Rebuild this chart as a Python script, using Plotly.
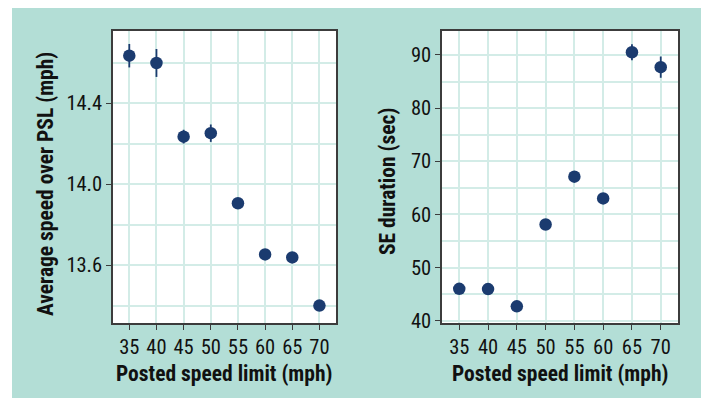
import plotly.graph_objects as go

# ---- data ----
speed_limits = [35, 40, 45, 50, 55, 60, 65, 70]
avg_over_psl = [14.635, 14.599, 14.235, 14.252, 13.906, 13.653, 13.638, 13.400]
avg_over_err = [0.058, 0.069, 0.034, 0.043, 0.010, 0.010, 0.010, 0.010]
se_duration = [46.0, 45.95, 42.7, 58.1, 67.1, 63.0, 90.5, 87.7]
se_duration_err = [0.4, 0.4, 0.4, 0.5, 0.6, 0.6, 1.5, 2.0]
x_tick_vals = [35, 40, 45, 50, 55, 60, 65, 70]
x_tick_labels = ["35", "40", "45", "50", "55", "60", "65", "70"]
left_y_ticks = [13.6, 14.0, 14.4]
left_y_labels = ["13.6", "14.0", "14.4"]
right_y_ticks = [40, 50, 60, 70, 80, 90]
right_y_labels = ["40", "50", "60", "70", "80", "90"]

# The page body has an 8px margin; figure coords = page coords - 8
OFF = 8
W, H = 709 - OFF, 398 - OFF
TEAL = "#b3ded6"
GRID = "#d3ece7"
NAVY = "#1b3b6f"
FRAME = "#3c3c3c"
FONT = "Roboto, Open Sans, sans-serif"


def cond(s, stretch="80%"):
    return '<span style="font-stretch:%s">%s</span>' % (stretch, s)


def px_x(p):
    return (p - OFF) / W


def px_y(p):
    return (H - (p - OFF)) / H


fig = go.Figure()

fig.add_trace(go.Scatter(
    x=speed_limits, y=avg_over_psl, mode="markers",
    marker=dict(color=NAVY, size=12.5),
    error_y=dict(type="data", array=avg_over_err, color=NAVY, thickness=1.8, width=0),
    xaxis="x", yaxis="y", showlegend=False))

fig.add_trace(go.Scatter(
    x=speed_limits, y=se_duration, mode="markers",
    marker=dict(color=NAVY, size=12.5),
    error_y=dict(type="data", array=se_duration_err, color=NAVY, thickness=1.8, width=0),
    xaxis="x2", yaxis="y2", showlegend=False))

ydom = [px_y(323), px_y(31)]
axis_common = dict(
    showline=True, linecolor=FRAME, linewidth=1.5, mirror=True,
    showgrid=True, gridcolor=GRID, gridwidth=1.5,
    ticks="outside", ticklen=5, tickwidth=1, tickcolor=FRAME,
    tickfont=dict(family=FONT, size=20.5, color="#111111"),
    zeroline=False, fixedrange=True, automargin=False,
)

fig.update_layout(
    width=W, height=H,
    margin=dict(l=0, r=0, t=0, b=0),
    paper_bgcolor=TEAL, plot_bgcolor="white",
    xaxis=dict(domain=[px_x(113), px_x(336)], range=[32, 73.05],
               tickvals=x_tick_vals, ticktext=[cond(t) for t in x_tick_labels],
               anchor="y", **axis_common),
    yaxis=dict(domain=ydom, range=[13.314, 14.757],
               tickvals=left_y_ticks, ticktext=[cond(t) for t in left_y_labels],
               minor=dict(dtick=0.2, tick0=13.4, showgrid=True, gridcolor=GRID, gridwidth=1.5, ticks=""),
               anchor="x", **axis_common),
    xaxis2=dict(domain=[px_x(442), px_x(678)], range=[32, 73],
                tickvals=x_tick_vals, ticktext=[cond(t) for t in x_tick_labels],
                anchor="y2", **axis_common),
    yaxis2=dict(domain=ydom, range=[39.57, 94.5],
                tickvals=right_y_ticks, ticktext=[cond(t) for t in right_y_labels],
                minor=dict(dtick=5, tick0=40, showgrid=True, gridcolor=GRID, gridwidth=1.5, ticks=""),
                anchor="x2", **axis_common),
    shapes=[
        dict(type="rect", xref="paper", yref="paper", x0=0, x1=px_x(12), y0=0, y1=1,
             fillcolor="white", line=dict(width=0), layer="below"),
    ],
)

title_font = dict(family=FONT, size=21.5, color="#111111")
annos = [
    dict(text="Posted speed limit (mph)", x=px_x(224), y=px_y(373)),
    dict(text="Posted speed limit (mph)", x=px_x(560), y=px_y(373)),
    dict(text="Average speed over PSL (mph)", x=px_x(46), y=px_y(184), textangle=-90),
    dict(text="SE duration (sec)", x=px_x(387), y=px_y(182), textangle=-90),
]
for a in annos:
    a["text"] = cond("<b>%s</b>" % a["text"], "80%")
    fig.add_annotation(xref="paper", yref="paper", showarrow=False,
                       xanchor="center", yanchor="middle", font=title_font, **a)

fig.write_html("out.html")
